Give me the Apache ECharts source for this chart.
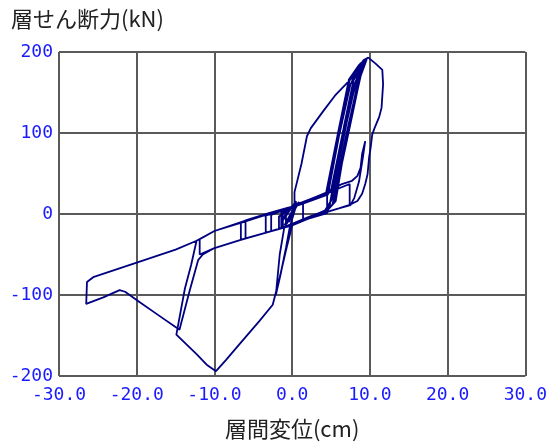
<!DOCTYPE html>
<html>
<head>
<meta charset="utf-8">
<script src="https://cdn.jsdelivr.net/npm/echarts@6/dist/echarts.min.js"></script>
<style>
html,body{margin:0;padding:0;background:#fff;}
#chart{width:550px;height:445px;}
</style>
</head>
<body>
<div id="chart"></div>
<script>
// Axis ticks
const xTicks = [-30, -20, -10, 0, 10, 20, 30];
const yTicks = [-200, -100, 0, 100, 200];

// Story drift (cm) vs story shear (kN), in time order
const initialCycles = [[0,0],[0.3,7],[-0.3,-6],[0.5,11],[-0.5,-9],[0.7,14],[-0.7,-12],[0.9,15],[-1.0,-14],[0.3,9]];
const firstPositive = [[0.3,27],[1.2,62],[1.9,96],[2.4,106],[4.0,127],[5.5,146],[7.7,168],[9.2,190],[9.8,193],
  [10.7,186],[11.6,178],[11.7,160],[11.5,131],[11.2,120],[10.6,106],[10.3,98],[10.1,82],[9.9,70],[9.7,49],
  [9.4,37],[9.0,25],[8.4,16],[7.3,11],[6.0,7],[4.3,2],[2.0,-6],[0.0,-14]];
const firstNegative = [[-0.8,-45],[-1.6,-78],[-2.5,-112],[-4.2,-132],[-6.8,-161],[-8.5,-180],[-9.8,-194],
  [-11.0,-186],[-12.3,-173],[-13.6,-161],[-14.9,-149],[-13.8,-92],[-13.0,-63],[-12.3,-33]];
const bandCyclesA = [[-10.0,-21],[-6.0,-8],[-3.0,1],[0.0,9],[2.0,16],[4.7,26],[5.5,30],[6.9,95],[8.3,155],
  [9.5,191],[9.0,186],[7.4,112],[6.1,50],[5.4,14],[4.3,2],[2.0,-6],[0.0,-14],[-3.0,-22],[-6.6,-32],
  [-6.6,-11],[-3.0,0],[0.0,9],[1.4,14],[1.4,-8],[0.0,-13],[-1.7,-18],[-1.7,-3],[0.0,8],[2.5,18],[4.6,26],
  [5.2,33],[6.6,100],[8.0,160],[9.4,190],[8.9,182],[7.3,110],[6.0,52],[5.2,12],[4.5,4],[2.0,-6],[0.0,-14],
  [-3.0,-22],[-6.0,-30],[-6.0,-9],[-3.0,1],[0.0,9],[2.0,16],[4.5,25],[4.5,1],[2.0,-6],[0.0,-14]];
const bandCyclesB = [[-3.4,-23],[-3.4,-2],[0.0,9],[3.0,20],[4.4,24],[5.0,50],[6.2,110],[7.4,166],[8.8,186],
  [9.6,192],[9.2,189],[7.8,125],[6.4,62],[5.6,16],[4.3,2],[2.0,-6],[0.0,-14],[-1.0,-16],[-1.6,-50],
  [-2.1,-100],[-1.5,-75],[-0.8,-42],[-0.3,-16],[0.5,10],[2.0,16],[4.8,27],[7.4,37],[7.4,11],[6.0,7],
  [4.3,2],[2.0,-6],[0.0,-14],[-2.7,-21],[-2.7,-1],[0.0,9],[2.0,16],[4.8,28],[6.4,37],[7.7,41],[8.4,47],
  [8.8,57],[9.0,74],[9.4,90],[9.1,70],[8.6,40],[8.0,20],[7.5,11],[6.0,7],[4.3,2],[2.0,-6],[0.0,-14]];
const bandCyclesC = [[-3.0,-22],[-6.0,-30],[-10.0,-42],[-11.9,-50],[-11.9,-31],[-10.0,-21],[-6.0,-8],
  [-3.0,1],[-0.5,8],[-1.2,-8],[0.2,12],[-0.9,-4],[0.5,16],[-0.4,-10],[0.6,12],[4.9,28],[5.7,34],[7.1,100],
  [8.6,165],[9.6,191],[9.2,187],[7.6,118],[6.2,56],[5.5,15],[4.3,2],[2.0,-6],[0.0,-14]];
const bandCyclesD = [[-1.2,-17],[-1.2,2],[0.0,8],[2.0,15],[4.3,23],[5.9,100],[7.3,166],[8.6,184],[9.3,189],
  [8.9,184],[7.2,125],[5.9,62],[5.0,20],[4.8,8],[4.3,3],[2.0,-5],[0.0,-13],[-0.8,-15],[-0.8,4],[1.0,12],
  [4.0,22],[4.6,24],[6.0,95],[7.5,160],[8.3,175],[8.0,170],[6.7,110],[5.6,52],[4.9,15],[4.2,4],[2.0,-4],
  [0.0,-12],[-1.4,-17],[-1.4,3],[0.0,9],[3.0,21],[5.0,29],[6.5,100],[7.9,165],[9.0,185],[8.6,180],
  [7.0,112],[5.8,55],[5.1,18],[4.4,5],[2.0,-5],[0.0,-13]];
const finalCollapse = [[-3.0,-22],[-6.0,-30],[-10.0,-42],[-11.5,-50],[-12.1,-57],[-13.2,-95],[-14.5,-143],
  [-17.5,-123],[-19.6,-109],[-21.5,-96],[-22.2,-94],[-24.3,-103],[-26.5,-111],[-26.4,-84],
  [-25.6,-78],[-20.0,-60],[-15.0,-44],[-12.3,-33],[-10.0,-21],[-6.0,-9],[-3.0,0],[-1.0,5]];

const path = [].concat(initialCycles, firstPositive, firstNegative, bandCyclesA, bandCyclesB,
  bandCyclesC, bandCyclesD, finalCollapse);

const chart = echarts.init(document.getElementById('chart'), null, {renderer:'canvas'});
const gridColor = '#5a5a5a';
chart.setOption({
  animation: false,
  backgroundColor: '#ffffff',
  title: {
    text: '層せん断力(kN)',
    left: 6, top: 3,
    textStyle: {fontFamily: 'Noto Sans CJK JP', fontSize: 22, fontWeight: 'normal', color: '#222'}
  },
  grid: {left: 59, right: 22, top: 52, bottom: 67, containLabel: false},
  xAxis: {
    type: 'value', min: xTicks[0], max: xTicks[xTicks.length-1], interval: 10,
    name: '層間変位(cm)', nameLocation: 'middle', nameGap: 42,
    nameTextStyle: {fontFamily: 'Noto Sans CJK JP', fontSize: 22, color: '#222'},
    axisLine: {show: false}, axisTick: {show: false},
    axisLabel: {margin: 10, color: '#1a1aff', fontFamily: 'DejaVu Sans Mono', fontSize: 18,
      formatter: v => v.toFixed(1)},
    splitLine: {show: true, lineStyle: {color: gridColor, width: 2}}
  },
  yAxis: {
    type: 'value', min: yTicks[0], max: yTicks[yTicks.length-1], interval: 100,
    axisLine: {show: false}, axisTick: {show: false},
    axisLabel: {margin: 6, color: '#1a1aff', fontFamily: 'DejaVu Sans Mono', fontSize: 18},
    splitLine: {show: true, lineStyle: {color: gridColor, width: 2}}
  },
  series: [{
    type: 'line', data: path, showSymbol: false, symbol: 'none',
    lineStyle: {color: '#000080', width: 1.8}, z: 3
  }]
});
</script>
</body>
</html>
